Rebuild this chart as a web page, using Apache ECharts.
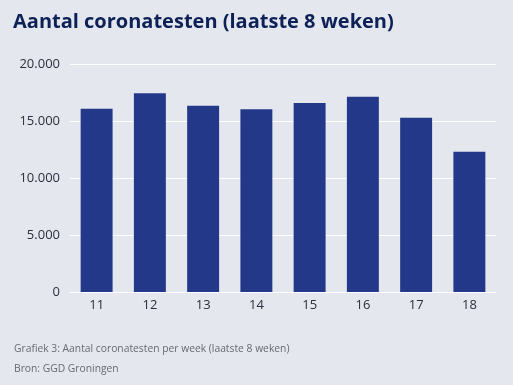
<!DOCTYPE html>
<html><head><meta charset="utf-8">
<script src="https://cdn.jsdelivr.net/npm/echarts@6/dist/echarts.min.js"></script>
<style>html,body{margin:0;padding:0;background:#e4e7ee;}#c{width:513px;height:385px;}</style>
</head><body><div id="c"></div>
<script>
const weeks = ['11','12','13','14','15','16','17','18'];
const tests = [16080, 17430, 16340, 16020, 16580, 17130, 15290, 12310];
const yTicks = [0, 5000, 10000, 15000, 20000];
const chart = echarts.init(document.getElementById('c'));
chart.setOption({
  backgroundColor: '#e4e7ee',
  animation: false,
  title: [
    {text: 'Aantal coronatesten (laatste 8 weken)', left: 8, top: 7,
     textStyle: {fontFamily: 'Open Sans', fontWeight: 'bold', fontSize: 20, color: '#0d2157'}},
    {text: 'Grafiek 3: Aantal coronatesten per week (laatste 8 weken)\nBron: GGD Groningen', left: 9, top: 334,
     textStyle: {fontFamily: 'Open Sans', fontWeight: 'normal', fontSize: 10.3, color: '#666a73', lineHeight: 20}}
  ],
  grid: {left: 70, right: 17, top: 64, bottom: 93},
  xAxis: {type: 'category', data: weeks,
    axisLine: {lineStyle: {color: '#ffffff', width: 1}},
    axisTick: {show: false},
    axisLabel: {color: '#2a2f3d', fontSize: 13, fontFamily: 'Open Sans', margin: 7}},
  yAxis: {type: 'value', min: yTicks[0], max: yTicks[yTicks.length-1], interval: 5000,
    axisLine: {show: false}, axisTick: {show: false},
    splitLine: {lineStyle: {color: '#ffffff', width: 1}},
    axisLabel: {color: '#2a2f3d', fontSize: 13, fontFamily: 'Open Sans', margin: 10,
      formatter: v => v.toLocaleString('nl-NL').replace(/,/g, '.') }},
  series: [{type: 'bar', data: tests, barCategoryGap: '40%',
    itemStyle: {color: '#24388a'}}]
});
</script></body></html>
